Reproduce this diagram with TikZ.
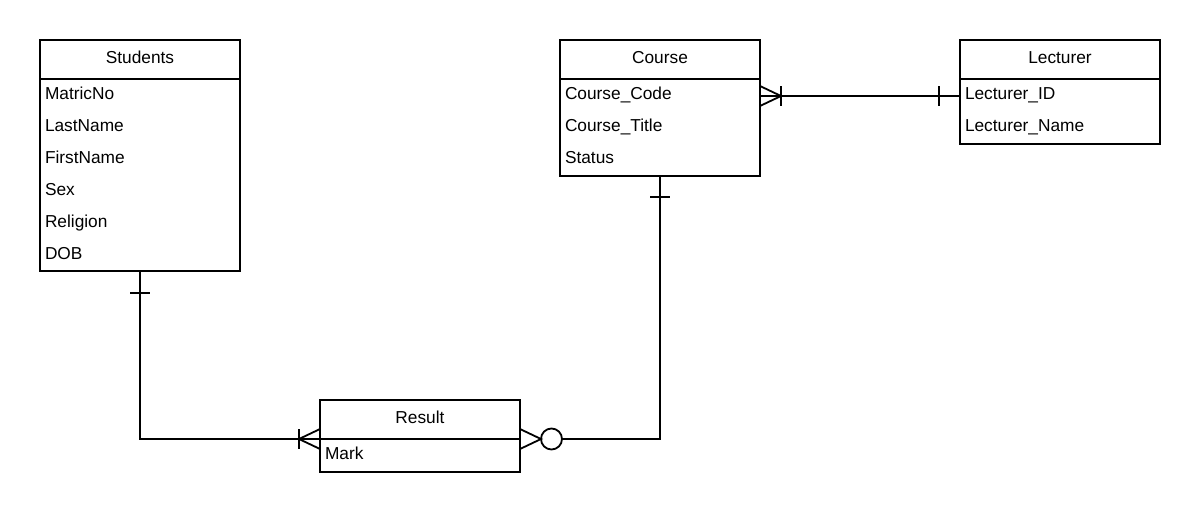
\documentclass[tikz,border=0pt]{standalone}
\usepackage{fontspec}
\setmainfont{Liberation Sans}
\usetikzlibrary{positioning,calc}

\begin{document}
\begin{tikzpicture}[x=1pt, y=1pt,
    every node/.style={font=\fontsize{17.3}{20}\selectfont, outer sep=0pt},
    ent/.style={draw, line width=1.8pt, minimum width=200pt, minimum height=39pt, inner sep=0pt,
      text height=12pt, text depth=5pt},
    attbox/.style={draw, line width=1.8pt, minimum width=200pt, inner sep=0pt},
    att/.style={anchor=west, inner sep=0pt, text height=12.5pt, text depth=0pt},
    rel/.style={line width=1.8pt}
  ]
    \useasboundingbox (0,0) rectangle (1200,-512);
    % Entities
    \node[ent] (stu) at (140,-59.5) {Students};
    \node[attbox, minimum height=192pt, below=0pt of stu] (stuA) {};
    \node[ent] (crs) at (660,-59.5) {Course};
    \node[attbox, minimum height=97pt, below=0pt of crs] (crsA) {};
    \node[ent] (lec) at (1060,-59.5) {Lecturer};
    \node[attbox, minimum height=65pt, below=0pt of lec] (lecA) {};
    \node[ent] (res) at (420,-419.5) {Result};
    \node[attbox, minimum height=33pt, below=0pt of res] (resA) {};
    % Attributes
    \foreach \t [count=\i] in {MatricNo,LastName,FirstName,Sex,Religion,DOB}
      \node[att] (stu\i) at ($(stuA.north west)+(5,{-14.5-32*(\i-1)})$) {\t};
    \foreach \t [count=\i] in {Course\_Code,Course\_Title,Status}
      \node[att] (crs\i) at ($(crsA.north west)+(5,{-14.5-32*(\i-1)})$) {\t};
    \foreach \t [count=\i] in {Lecturer\_ID,Lecturer\_Name}
      \node[att] (lec\i) at ($(lecA.north west)+(5,{-14.5-32*(\i-1)})$) {\t};
    \node[att] (res1) at ($(resA.north west)+(5,-14.5)$) {Mark};
    % Course -- Lecturer
    \draw[rel] (crsA.east |- 0,-96) coordinate (crsR) -- (lecA.west |- 0,-96) coordinate (lecL);
    \draw[rel] ($(crsR)+(0,10)$) -- ($(crsR)+(21,0)$) -- ($(crsR)+(0,-10)$);
    \draw[rel] ($(crsR)+(21,10)$) -- ++(0,-20);
    \draw[rel] ($(lecL)+(-21,10)$) -- ++(0,-20);
    % Students -- Result
    \draw[rel] (stuA.south) |- (res.south west);
    \draw[rel] ($(stuA.south)+(-10,-22)$) -- ++(20,0);
    \draw[rel] ($(res.south west)+(0,10)$) -- ($(res.south west)+(-21,0)$) -- ($(res.south west)+(0,-10)$);
    \draw[rel] ($(res.south west)+(-21,10)$) -- ++(0,-20);
    % Course -- Result
    \node[circle, draw, line width=1.8pt, minimum size=21pt, inner sep=0pt] (resC) at ($(res.south east)+(31.5,0)$) {};
    \draw[rel] (crsA.south) |- (resC.east);
    \draw[rel] ($(crsA.south)+(-10,-21)$) -- ++(20,0);
    \draw[rel] ($(res.south east)+(0,10)$) -- (resC.west) -- ($(res.south east)+(0,-10)$);
  \end{tikzpicture}
\end{document}
